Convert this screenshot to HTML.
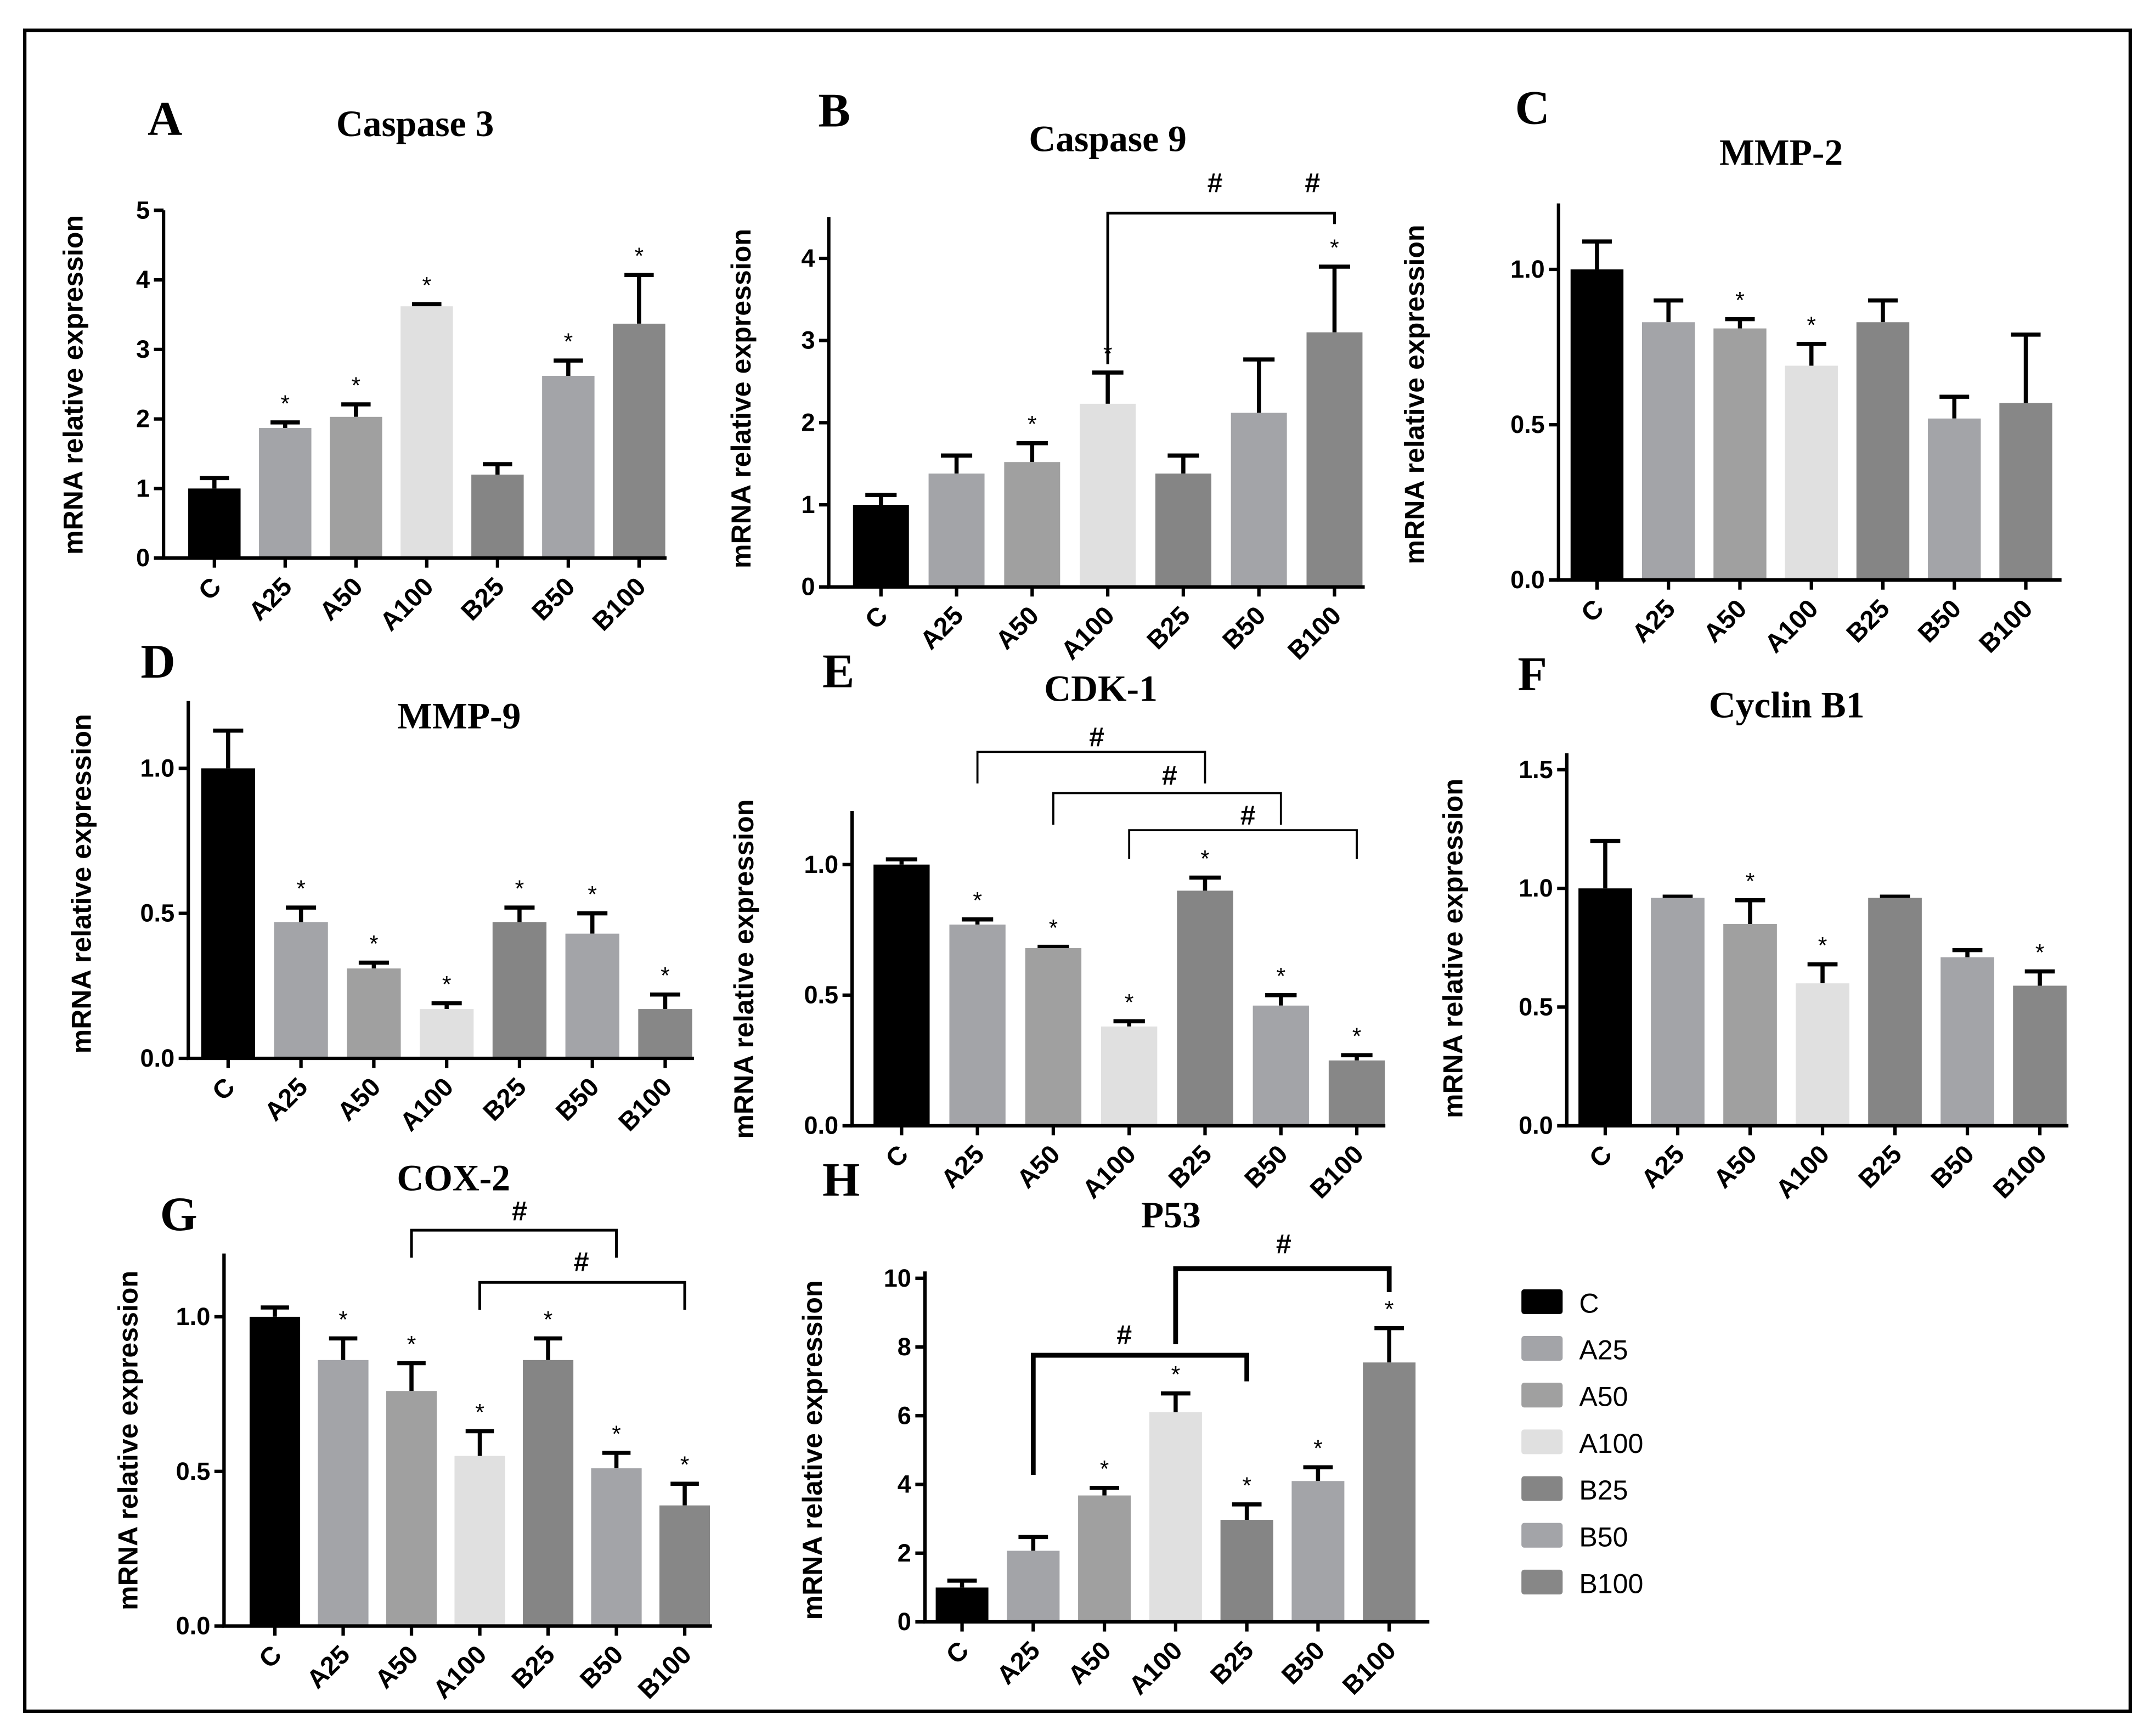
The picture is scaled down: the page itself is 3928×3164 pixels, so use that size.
<!DOCTYPE html>
<html><head><meta charset="utf-8"><style>html,body{margin:0;padding:0;background:#fff}svg{display:block}text{font-family:"Liberation Sans",Arial,sans-serif}</style></head>
<body>
<svg id="fig" width="3928" height="3164" viewBox="0 0 1568 1263" xmlns="http://www.w3.org/2000/svg">
<rect x="18" y="22" width="1532" height="1223" fill="#fff" stroke="#000" stroke-width="2.5"/>
<g id="legend"></g>
</svg>
<script>
const categories = ["C","A25","A50","A100","B25","B50","B100"];
const colors = ["#000000","#a3a4a8","#a0a0a0","#e0e0e0","#858585","#a3a4a8","#878787"];
const caspase3Values = [1.0,1.87,2.03,3.62,1.2,2.62,3.37];
const caspase3Errors = [0.15,0.08,0.18,0.03,0.15,0.22,0.7];
const caspase3Ticks = [0,1,2,3,4,5];
const caspase9Values = [1.0,1.38,1.52,2.23,1.38,2.12,3.1];
const caspase9Errors = [0.12,0.22,0.23,0.38,0.22,0.65,0.8];
const caspase9Ticks = [0,1,2,3,4];
const mmp2Values = [1.0,0.83,0.81,0.69,0.83,0.52,0.57];
const mmp2Errors = [0.09,0.07,0.03,0.07,0.07,0.07,0.22];
const mmp2Ticks = [0,0.5,1.0];
const mmp9Values = [1.0,0.47,0.31,0.17,0.47,0.43,0.17];
const mmp9Errors = [0.13,0.05,0.02,0.02,0.05,0.07,0.05];
const mmp9Ticks = [0,0.5,1.0];
const cdk1Values = [1.0,0.77,0.68,0.38,0.9,0.46,0.25];
const cdk1Errors = [0.02,0.02,0.005,0.02,0.05,0.04,0.02];
const cdk1Ticks = [0,0.5,1.0];
const cyclinValues = [1.0,0.96,0.85,0.6,0.96,0.71,0.59];
const cyclinErrors = [0.2,0.005,0.1,0.08,0.005,0.03,0.06];
const cyclinTicks = [0,0.5,1.0,1.5];
const cox2Values = [1.0,0.86,0.76,0.55,0.86,0.51,0.39];
const cox2Errors = [0.03,0.07,0.09,0.08,0.07,0.05,0.07];
const cox2Ticks = [0,0.5,1.0];
const p53Values = [1.0,2.07,3.68,6.1,2.97,4.1,7.55];
const p53Errors = [0.2,0.4,0.22,0.55,0.45,0.4,1.0];
const p53Ticks = [0,2,4,6,8,10];

const NS="http://www.w3.org/2000/svg";
const svg=document.getElementById('fig');
function mk(tag,attrs,parent,txt){const e=document.createElementNS(NS,tag);for(const k in attrs)e.setAttribute(k,attrs[k]);if(txt!==undefined)e.textContent=txt;(parent||svg).appendChild(e);return e;}

const panels=[
 {id:'caspase-3',letter:'A',lx:120,ly:98,title:'Caspase 3',tx:302,ty:99,ax:119,y0:406,ymax:5,ytop:153,axTop:153,x0:156,step:51.5,xend:485,vals:caspase3Values,errs:caspase3Errors,ticks:caspase3Ticks,dec:0,stars:[0,1,1,1,0,1,1],ylx:60,yly:280,brackets:[]},
 {id:'caspase-9',letter:'B',lx:607,ly:92,title:'Caspase 9',tx:806,ty:110,ax:603,y0:427,ymax:4,ytop:188,axTop:158,x0:641,step:55,xend:993,vals:caspase9Values,errs:caspase9Errors,ticks:caspase9Ticks,dec:0,stars:[0,0,1,1,0,0,1],ylx:546,yly:290,brackets:[{a:3,b:6,y:155,la:265,lb:163,h:[884,955],hy:140,w:2}]},
 {id:'mmp-2',letter:'C',lx:1115,ly:90,title:'MMP-2',tx:1296,ty:120,ax:1134,y0:422,ymax:1.0,ytop:196,axTop:148,x0:1162,step:52,xend:1500,vals:mmp2Values,errs:mmp2Errors,ticks:mmp2Ticks,dec:1,stars:[0,0,1,1,0,0,0],ylx:1036,yly:287,brackets:[]},
 {id:'mmp-9',letter:'D',lx:115,ly:493,title:'MMP-9',tx:334,ty:530,ax:137,y0:770,ymax:1.0,ytop:559,axTop:510,x0:166,step:53,xend:505,vals:mmp9Values,errs:mmp9Errors,ticks:mmp9Ticks,dec:1,stars:[0,1,1,1,1,1,1],ylx:66,yly:643,brackets:[]},
 {id:'cdk-1',letter:'E',lx:610,ly:500,title:'CDK-1',tx:801,ty:510,ax:620,y0:819,ymax:1.0,ytop:629,axTop:590,x0:656,step:55.2,xend:1008,vals:cdk1Values,errs:cdk1Errors,ticks:cdk1Ticks,dec:1,stars:[0,1,1,1,1,1,1],ylx:548,yly:705,brackets:[{a:1,b:4,y:547,la:570,lb:570,h:[798],hy:543,w:1.5},{a:2,b:5,y:577,la:600,lb:600,h:[851],hy:571,w:1.5},{a:3,b:6,y:604,la:625,lb:625,h:[908],hy:600,w:1.5}]},
 {id:'cyclin-b1',letter:'F',lx:1115,ly:502,title:'Cyclin B1',tx:1300,ty:522,ax:1140,y0:819,ymax:1.5,ytop:560,axTop:548,x0:1168,step:52.7,xend:1505,vals:cyclinValues,errs:cyclinErrors,ticks:cyclinTicks,dec:1,stars:[0,0,1,1,0,0,1],ylx:1064,yly:690,brackets:[]},
 {id:'cox-2',letter:'G',lx:130,ly:895,title:'COX-2',tx:330,ty:866,ax:163,y0:1183,ymax:1.0,ytop:958,axTop:912,x0:200,step:49.7,xend:518,vals:cox2Values,errs:cox2Errors,ticks:cox2Ticks,dec:1,stars:[0,1,1,1,1,1,1],ylx:100,yly:1048,brackets:[{a:2,b:5,y:895,la:915,lb:915,h:[378],hy:888,w:2},{a:3,b:6,y:933,la:953,lb:953,h:[423],hy:925,w:2}]},
 {id:'p53',letter:'H',lx:612,ly:870,title:'P53',tx:852,ty:893,ax:673,y0:1180,ymax:10,ytop:930,axTop:925,x0:700,step:51.8,xend:1040,vals:p53Values,errs:p53Errors,ticks:p53Ticks,dec:0,stars:[0,0,1,1,1,1,1],ylx:598,yly:1055,brackets:[{a:1,b:4,y:986,la:1073,lb:1005,h:[818],hy:978,w:3.5},{a:3,b:6,y:923,la:978,lb:940,h:[934],hy:912,w:3.5}]}
];

panels.forEach(p=>{
 const g=mk('g',{});
 
 
 const ys=v=>p.y0-(v/p.ymax)*(p.y0-p.ytop);
 const xs=i=>p.x0+i*p.step;
 const bw=p.step*0.74;
 const L=mk('text',{x:p.lx,y:p.ly,'font-size':35,'font-weight':'bold','text-anchor':'middle'},g,p.letter);
 
 L.setAttribute('style','font-family:"Liberation Serif",serif');
 const T=mk('text',{x:p.tx,y:p.ty,'font-size':27,'font-weight':'bold','text-anchor':'middle'},g,p.title);
 T.setAttribute('style','font-family:"Liberation Serif",serif');
 
 const Y=mk('text',{x:0,y:0,'font-size':20,'font-weight':'bold','text-anchor':'middle',transform:`translate(${p.ylx},${p.yly}) rotate(-90)`},g,'mRNA relative expression');
 
 p.vals.forEach((v,i)=>{
  const x=xs(i),y=ys(v),ye=ys(v+p.errs[i]);
  const eb=mk('path',{d:`M${x},${y} V${ye} M${x-bw*0.28},${ye} H${x+bw*0.28}`,stroke:'#000','stroke-width':3,fill:'none'},g);
  
  const r=mk('rect',{x:x-bw/2,y:y,width:bw,height:p.y0-y,fill:colors[i]},g);
  
  if(p.stars[i]){const s=mk('text',{x:x,y:ye-8,'font-size':17,'text-anchor':'middle'},g,'*');
   }
  const tk=mk('line',{x1:x,x2:x,y1:p.y0,y2:p.y0+7,stroke:'#000','stroke-width':2.5},g);
  
  const xl=mk('text',{x:0,y:0,'font-size':19,'font-weight':'bold','text-anchor':'end',transform:`translate(${x+6},${p.y0+22}) rotate(-45)`},g,categories[i]);
  
 });
 const ax=mk('path',{d:`M${p.ax},${p.axTop} V${p.y0} H${p.xend}`,stroke:'#000','stroke-width':2.5,fill:'none'},g);
 
 p.ticks.forEach(t=>{
  const y=ys(t);
  const tl=mk('line',{x1:p.ax-7,x2:p.ax,y1:y,y2:y,stroke:'#000','stroke-width':2.5},g);
  
  const tt=mk('text',{x:p.ax-10,y:y+6,'font-size':18,'font-weight':'bold','text-anchor':'end'},g,t.toFixed(p.dec));
  
 });
 p.brackets.forEach(b=>{
  const xa=xs(b.a),xb=xs(b.b);
  const br=mk('path',{d:`M${xa},${b.la} V${b.y} H${xb} V${b.lb}`,stroke:'#000','stroke-width':b.w,fill:'none'},g);
  
  b.h.forEach(hx=>{const h=mk('text',{x:hx,y:b.hy,'font-size':20,'font-weight':'bold','text-anchor':'middle'},g,'#');
   });
 });
});
const lg=document.getElementById('legend');
categories.forEach((c,i)=>{
 const y=938+i*34;
 const r=mk('rect',{x:1107,y:y,width:30,height:18,fill:colors[i],rx:2},lg);
 
 const t=mk('text',{x:1149,y:y+17,'font-size':20},lg,c);
 
});
</script>
</body></html>
